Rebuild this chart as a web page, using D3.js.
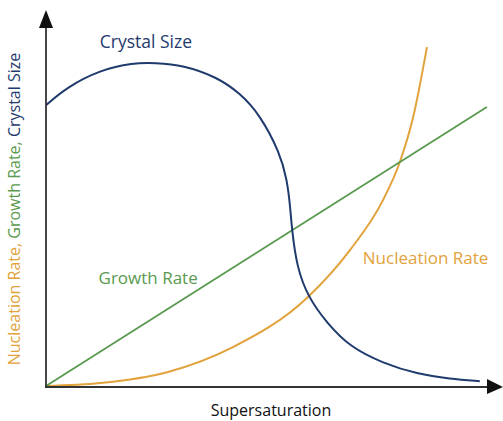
<!DOCTYPE html>
<html>
<head>
<meta charset="utf-8">
<script src="https://cdn.jsdelivr.net/npm/d3@7"></script>
<style>
  body { margin: 0; background: #fff; }
  text { font-family: "Open Sans", Arial, sans-serif; }
</style>
</head>
<body>
<svg width="503" height="421"></svg>
<script>
// supersaturation (arbitrary units) and values
const crystalX = [0, 0.47, 1.22, 1.96, 2.45, 3.09, 3.85, 4.37, 4.82, 5.27, 5.43, 5.50, 5.54, 5.65, 5.90, 6.33, 6.85, 7.59, 8.36, 9.10, 9.77];
const crystalY = [7.51, 7.99, 8.45, 8.64, 8.64, 8.58, 8.26, 7.83, 7.25, 6.23, 5.51, 4.79, 4.17, 3.18, 2.38, 1.68, 1.04, 0.61, 0.32, 0.19, 0.13];

const growthX = [0, 9.93];
const growthY = [0, 7.46];

const nuclX = [0, 1.22, 2.73, 4.21, 5.90, 6.85, 7.59, 7.97, 8.27, 8.58];
const nuclY = [0, 0.08, 0.37, 1.04, 2.38, 3.64, 4.97, 5.99, 7.19, 9.06];

const blue = '#1f3a6c';
const green = '#5a9a50';
const orange = '#e2a23c';

const svg = d3.select('svg');

const x = d3.scaleLinear().domain([0, 10]).range([46, 490]);
const y = d3.scaleLinear().domain([0, 10]).range([386, 12]);

const zip = (a, b) => a.map((v, i) => [v, b[i]]);

const lineOf = curve => d3.line()
    .x(d => x(d[0]))
    .y(d => y(d[1]))
    .curve(curve);

// curves
svg.append('path')
    .attr('d', lineOf(d3.curveMonotoneX)(zip(nuclX, nuclY)))
    .attr('fill', 'none')
    .attr('stroke', orange)
    .attr('stroke-width', 2);

svg.append('path')
    .attr('d', lineOf(d3.curveLinear)(zip(growthX, growthY)))
    .attr('fill', 'none')
    .attr('stroke', green)
    .attr('stroke-width', 1.8);

svg.append('path')
    .attr('d', lineOf(d3.curveBasis)(zip(crystalX, crystalY)))
    .attr('fill', 'none')
    .attr('stroke', blue)
    .attr('stroke-width', 2);

// axes with arrow heads
const axisColor = '#333';
svg.append('line')
    .attr('x1', x(0)).attr('y1', y(0) + 1)
    .attr('x2', x(0)).attr('y2', 26)
    .attr('stroke', axisColor).attr('stroke-width', 1.8);
svg.append('line')
    .attr('x1', x(0) - 1).attr('y1', y(0) + 1)
    .attr('x2', 489).attr('y2', y(0) + 1)
    .attr('stroke', axisColor).attr('stroke-width', 1.8);

svg.append('path')
    .attr('d', `M${x(0) - 7},28 L${x(0)},10 L${x(0) + 7},28 Z`)
    .attr('fill', '#111');
svg.append('path')
    .attr('d', `M487,${y(0) - 7} L503,${y(0) + 1} L487,${y(0) + 8} Z`)
    .attr('fill', '#111');

// labels
svg.append('text')
    .attr('x', x(2.25)).attr('y', 48)
    .attr('text-anchor', 'middle')
    .attr('font-size', 17.5)
    .attr('fill', blue)
    .text('Crystal Size');

svg.append('text')
    .attr('x', x(2.3)).attr('y', 284)
    .attr('text-anchor', 'middle')
    .attr('font-size', 17)
    .attr('fill', green)
    .text('Growth Rate');

svg.append('text')
    .attr('x', x(8.55)).attr('y', 264)
    .attr('text-anchor', 'middle')
    .attr('font-size', 17)
    .attr('fill', orange)
    .text('Nucleation Rate');

svg.append('text')
    .attr('x', 271).attr('y', 416)
    .attr('text-anchor', 'middle')
    .attr('font-size', 16)
    .attr('fill', '#111')
    .text('Supersaturation');

const yl = svg.append('text')
    .attr('transform', 'translate(20,209) rotate(-90)')
    .attr('text-anchor', 'middle')
    .attr('font-size', 16);
yl.append('tspan').attr('fill', orange).text('Nucleation Rate, ');
yl.append('tspan').attr('fill', green).text('Growth Rate, ');
yl.append('tspan').attr('fill', blue).text('Crystal Size');
</script>
</body>
</html>
